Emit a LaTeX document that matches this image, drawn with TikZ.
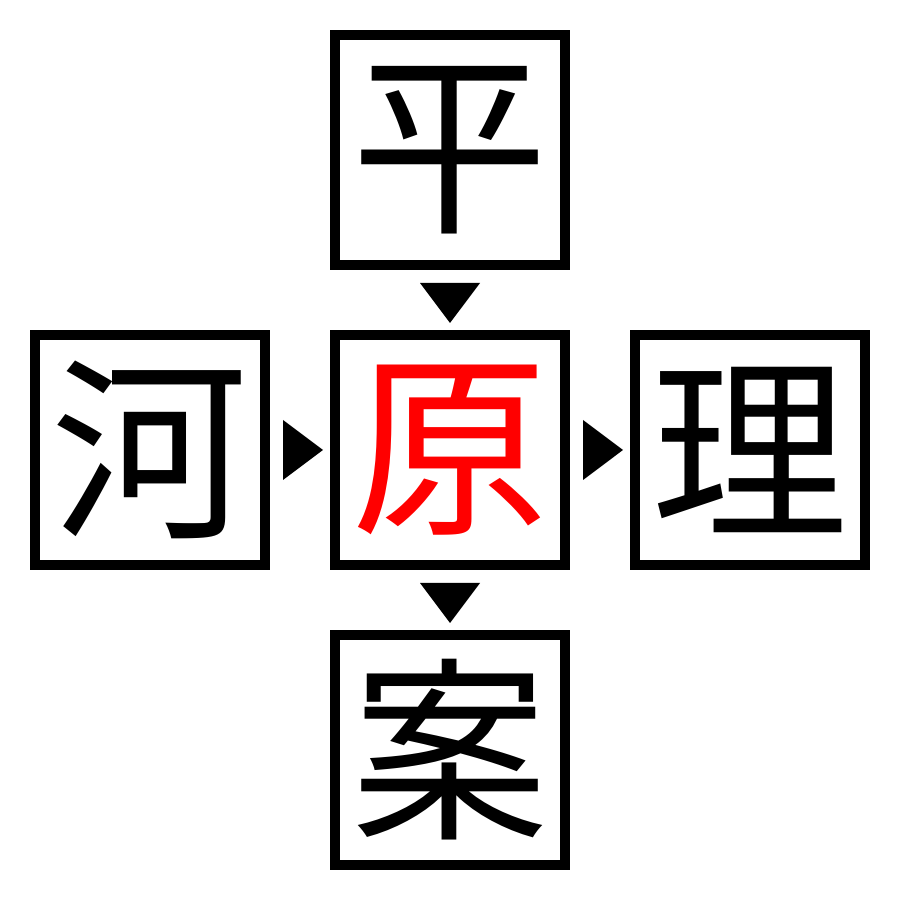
\documentclass[tikz,border=0pt]{standalone}
\usepackage{fontspec}
\newfontfamily\cjk{Noto Sans CJK JP}
\begin{document}
\begin{tikzpicture}
\useasboundingbox (0,0) rectangle (9,9);
\tikzset{charbox/.style={draw,line width=0.1cm,minimum size=2.3cm,inner sep=0pt,font=\cjk\fontsize{56}{56}\selectfont},
tri/.style={fill=black}}
\node[charbox] (t) at (4.5,7.5) {平};
\node[charbox] (l) at (1.5,4.5) {河};
\node[charbox,text=red] (c) at (4.5,4.5) {原};
\node[charbox] (r) at (7.5,4.5) {理};
\node[charbox] (b) at (4.5,1.5) {案};
\fill[tri] (4.2,6.17) -- (4.8,6.17) -- (4.5,5.77) -- cycle;
\fill[tri] (4.2,3.17) -- (4.8,3.17) -- (4.5,2.77) -- cycle;
\fill[tri] (2.83,4.8) -- (2.83,4.2) -- (3.23,4.5) -- cycle;
\fill[tri] (5.83,4.8) -- (5.83,4.2) -- (6.23,4.5) -- cycle;
\end{tikzpicture}
\end{document}
